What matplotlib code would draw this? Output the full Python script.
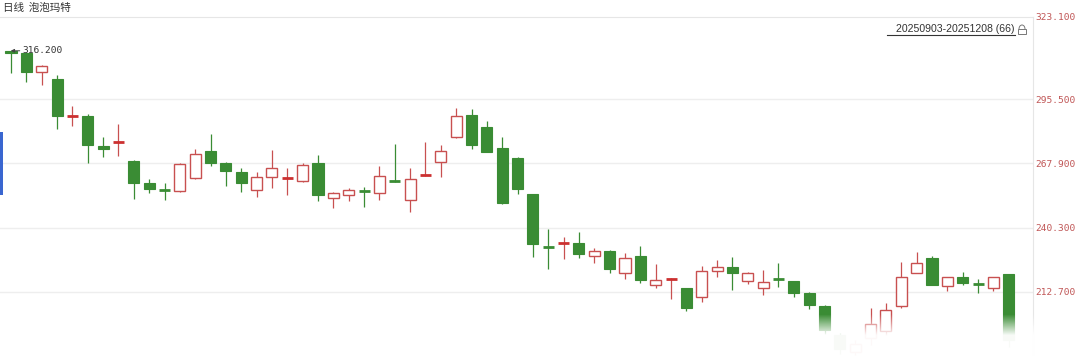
"""
Daily candlestick chart - 泡泡玛特, 20250903-20251208 (66 sessions).
Outputs: out.png
"""

import numpy as np
import matplotlib.pyplot as plt
import matplotlib
from matplotlib.patches import Rectangle, Arc

matplotlib.rcParams.update({
    "font.family": ["Noto Sans CJK SC", "DejaVu Sans"],
})

TITLE = "日线  泡泡玛特"
RANGE_LABEL = "20250903-20251208 (66)"

opens = [316.0, 315.2, 307.1, 304.1, 288.0, 288.2, 275.3, 276.9, 268.9, 259.5,
         256.7, 256.0, 261.6, 273.2, 268.0, 264.2, 256.5, 262.0, 261.4, 260.3,
         268.0, 253.0, 254.3, 256.2, 255.2, 260.5, 252.2, 262.7, 268.5, 279.2,
         288.6, 283.5, 274.5, 270.2, 254.7, 232.2, 233.5, 233.7, 228.1, 230.3,
         220.9, 228.1, 215.7, 218.1, 214.4, 210.6, 221.7, 223.4, 217.4, 214.4,
         218.5, 217.4, 212.3, 206.7, 194.0, 187.0, 193.0, 196.0, 206.7, 220.9,
         227.3, 215.3, 219.1, 216.3, 214.4, 220.4]
closes = [315.2, 307.1, 309.7, 288.2, 288.4, 275.8, 274.0, 277.2, 259.5, 256.9,
          256.3, 267.6, 271.9, 268.0, 264.6, 259.5, 262.0, 265.9, 261.7, 267.2,
          254.3, 255.2, 256.5, 255.9, 262.5, 260.1, 261.2, 263.0, 273.2, 288.2,
          275.8, 272.8, 250.9, 256.9, 233.3, 231.9, 233.8, 229.0, 230.3, 222.6,
          227.3, 217.9, 217.9, 218.4, 205.8, 221.7, 223.4, 220.9, 220.9, 217.0,
          218.2, 212.3, 207.1, 196.4, 188.0, 190.5, 199.0, 205.0, 219.1, 225.1,
          215.7, 219.1, 216.6, 216.0, 219.1, 192.0]
highs = [316.2, 315.6, 309.9, 305.8, 292.5, 289.1, 279.2, 284.8, 269.2, 261.2,
         259.5, 268.0, 274.0, 280.5, 268.3, 265.9, 264.2, 273.6, 265.9, 268.0,
         271.5, 255.4, 257.3, 257.7, 266.8, 276.2, 265.9, 277.1, 275.8, 291.6,
         291.2, 286.1, 279.2, 270.6, 254.9, 239.7, 236.3, 238.4, 231.6, 230.5,
         229.4, 232.4, 224.7, 218.6, 214.6, 223.9, 226.4, 227.7, 221.1, 222.1,
         225.1, 217.6, 212.7, 207.0, 195.0, 192.0, 205.8, 208.0, 225.6, 229.9,
         228.1, 219.3, 221.3, 218.3, 219.3, 220.6]
lows = [306.7, 302.8, 301.5, 282.6, 283.9, 268.0, 270.6, 271.0, 252.6, 255.2,
        252.2, 255.6, 261.2, 266.8, 258.2, 255.6, 253.5, 257.3, 254.3, 259.9,
        251.7, 248.7, 251.7, 249.2, 252.2, 259.9, 247.0, 262.6, 262.0, 278.8,
        274.0, 272.6, 250.5, 254.7, 227.7, 222.6, 226.9, 227.3, 225.1, 220.9,
        218.3, 216.6, 214.4, 209.7, 204.5, 208.4, 219.1, 213.6, 216.1, 211.4,
        214.9, 210.6, 205.4, 194.7, 186.0, 185.5, 190.0, 194.0, 205.8, 220.7,
        215.5, 213.1, 215.7, 212.3, 213.1, 189.0]

y_ticks = [212.7, 240.3, 267.9, 295.5]
top_label = 323.1
max_label = 316.2

assert len(opens) == len(closes) == len(highs) == len(lows) == 66

UP = "#c85050"
DOWN = "#3a8c34"
DOJI_UP = "#cc3030"
GRID = "#eeeeee"
LABEL = "#c05656"

W, H = 1080, 356
fig = plt.figure(figsize=(W / 100, H / 100), dpi=100)


def fx(px):
    return px / W


def fy(py):
    return 1 - py / H


# plot area: x 0..1033 px, y 17..356 px (bottom is cut off)
ax = fig.add_axes([0, 0, fx(1033), (H - 17) / H])
x = np.arange(len(opens))
o = np.array(opens)
c = np.array(closes)
up = c >= o

ax.set_xlim(-0.717, 66.58)
ax.set_ylim(185.2, 330.7)

# wicks
ax.vlines(x[up], np.array(lows)[up], np.array(highs)[up], color=UP, lw=0.9, zorder=2)
ax.vlines(x[~up], np.array(lows)[~up], np.array(highs)[~up], color=DOWN, lw=0.9, zorder=2)

# bodies
bw = 0.72
for i in range(len(x)):
    lo, hi = min(o[i], c[i]), max(o[i], c[i])
    h = hi - lo
    if h < 0.8:  # doji -> thick horizontal dash
        col = DOJI_UP if up[i] else DOWN
        ax.hlines((lo + hi) / 2, x[i] - bw / 2, x[i] + bw / 2, color=col, lw=2.0, zorder=3)
        continue
    if up[i]:
        ax.add_patch(Rectangle((x[i] - bw / 2, lo), bw, h, facecolor="white",
                               edgecolor=UP, lw=1.0, zorder=3))
    else:
        ax.add_patch(Rectangle((x[i] - bw / 2, lo), bw, h, facecolor=DOWN,
                               edgecolor=DOWN, lw=0.8, zorder=3))

# grid / frame
for t in y_ticks:
    ax.axhline(t, color=GRID, lw=1.0, zorder=0)
for s in ["left", "bottom"]:
    ax.spines[s].set_visible(False)
ax.spines["top"].set_color("#e6e6e6")
ax.spines["right"].set_color("#e6e6e6")
ax.set_xticks([])
ax.yaxis.tick_right()
ax.set_yticks(y_ticks)
ax.set_yticklabels([f"{t:.3f}" for t in y_ticks], family="DejaVu Sans Mono",
                   fontsize=6.8, color=LABEL)
ax.tick_params(axis="y", length=0, pad=2)
ax.text(1.0 + 2 / 1033, 1.0, f"{top_label:.3f}", transform=ax.transAxes, ha="left",
        va="center", family="DejaVu Sans Mono", fontsize=6.8, color=LABEL)

# max marker
imax = int(np.argmax(highs))
ax.annotate("", xy=(x[imax] - 0.2, highs[imax]), xytext=(x[imax] + 0.75, highs[imax]),
            arrowprops=dict(arrowstyle="-|>", color="#444444", lw=0.7,
                            mutation_scale=5), zorder=5)
ax.text(x[imax] + 0.72, highs[imax], f"{max_label:.3f}", ha="left", va="center",
        family="DejaVu Sans Mono", fontsize=6.8, color="#333333", zorder=5)

# title and range label
fig.text(fx(3), fy(8), TITLE, ha="left", va="center", fontsize=7.6, color="#333333")
fig.text(fx(1015), fy(29), RANGE_LABEL, ha="right", va="center",
         family="Liberation Sans", fontsize=7.6, color="#333333")
fig.add_artist(plt.Line2D([fx(887), fx(1015)], [fy(35), fy(35)], color="#333333",
                          lw=0.8, transform=fig.transFigure))
# small lock icon
fig.add_artist(Rectangle((fx(1018), fy(34)), fx(8), 5 / H, transform=fig.transFigure,
                         facecolor="white", edgecolor="#777777", lw=0.7))
fig.add_artist(Arc((fx(1022), fy(29)), fx(6), 8 / H, theta1=0, theta2=180,
                   transform=fig.transFigure, color="#777777", lw=0.7))

# left side marker
fig.add_artist(Rectangle((0, fy(195)), fx(2.5), 63 / H, transform=fig.transFigure,
                         facecolor="#3a66d0", edgecolor="none"))

# watermark fade at the bottom right (starts at y=300 px)
fade = fig.add_axes([fx(770), 0, fx(265), 56 / H], zorder=10)
yy = np.linspace(0, 1, 56)[:, None] * np.ones((1, 265))
alpha = np.clip((yy * 56 - 14) / 22, 0, 0.97)
rgba = np.ones((56, 265, 4))
rgba[..., 3] = alpha
fade.imshow(rgba, aspect="auto", interpolation="bilinear")
fade.axis("off")

fig.savefig("out.png", dpi=100)
